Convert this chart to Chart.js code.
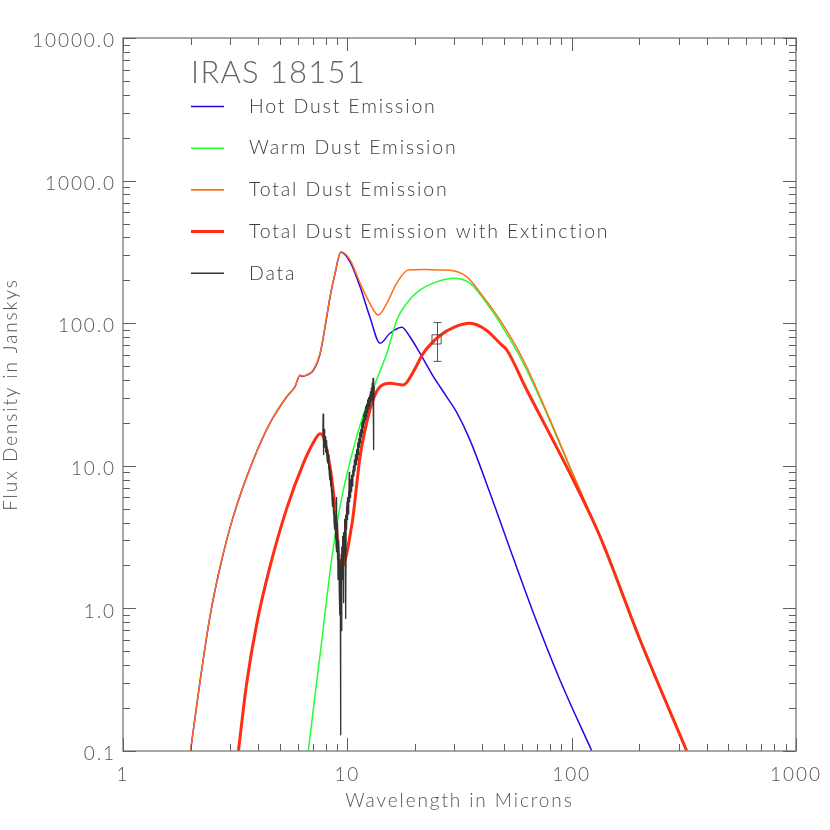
<!DOCTYPE html>
<html>
<head>
<meta charset="utf-8">
<script src="https://cdn.jsdelivr.net/npm/chart.js@4/dist/chart.umd.min.js"></script>
<style>
  html, body { margin: 0; padding: 0; background: #ffffff; }
  #c { display: block; }
</style>
</head>
<body>
<canvas id="c" width="830" height="830"></canvas>
<script>
// ---------------- DATA ----------------
const chartTitle = "IRAS 18151";
const seriesLabels = ["Hot Dust Emission", "Warm Dust Emission", "Total Dust Emission",
                      "Total Dust Emission with Extinction", "Data"];

const xTickValues = [1, 10, 100, 1000];
const xTickLabels = ["1", "10", "100", "1000"];
const yTickValues = [0.1, 1, 10, 100, 1000, 10000];
const yTickLabels = ["0.1", "1.0", "10.0", "100.0", "1000.0", "10000.0"];

// Hot dust emission (blue)
const hotLambda = [2.00, 2.20, 2.44, 2.71, 3.10, 3.81, 4.52, 5.37, 5.84, 6.15, 6.30, 6.59, 7.05, 7.56, 8.09, 8.37, 8.81, 9.35,
                   10.3, 11.4, 12.6, 14.0, 15.5, 17.5, 19.0, 21.1, 24.2, 27.7, 30.7, 35.2, 43.3, 51.4, 67.6, 88.7, 123];
const hotFlux   = [0.1, 0.30, 0.87, 1.95, 4.4, 11.0, 19.9, 30.5, 35.8, 43.0, 42.3, 43.2, 46.5, 61, 110, 152, 222, 314,
                   268, 180, 111, 72.3, 85, 93.5, 80.4, 61.5, 42.2, 30.6, 23.8, 15.2, 6.41, 3.02, 0.925, 0.315, 0.1];

// Warm dust emission (green)
const warmLambda = [6.70, 7.20, 7.65, 8.37, 8.81, 9.27, 9.90, 11.8, 13.5, 15.0, 16.6, 18.4, 21.1, 25.0, 29.7, 35.2,
                    41.8, 48.0, 60.9, 80.2, 101.9, 134, 202, 326];
const warmFlux   = [0.1, 0.255, 0.55, 1.8, 3.2, 5.16, 8.4, 23, 40, 61.5, 105, 138, 171, 195, 207, 191,
                    138, 100, 52.4, 20.5, 8.4, 3.12, 0.59, 0.1];

// Total dust emission (orange)
const totalLambda = [2.00, 2.20, 2.44, 2.71, 3.10, 3.81, 4.52, 5.37, 5.84, 6.15, 6.30, 6.59, 7.05, 7.56, 8.09, 8.37, 8.81, 9.35,
                     10.3, 11.4, 12.6, 13.75, 15.0, 16.6, 18.7, 22.0, 25.9, 28.7, 34.0, 40.4, 48.0, 60.9, 80.2, 101.9, 134, 202, 326];
const totalFlux   = [0.1, 0.30, 0.875, 1.96, 4.4, 11.0, 19.9, 30.6, 35.9, 43.4, 42.6, 43.4, 47, 61.5, 111, 153, 224, 317,
                     277, 191, 138, 114, 138, 191, 236, 238, 236, 235, 212, 153, 105, 55.2, 20.9, 8.6, 3.18, 0.60, 0.1];

// Total dust emission with extinction (red)
const extLambda = [3.27, 3.56, 3.95, 4.52, 5.37, 6.37, 7.00, 7.56, 7.82, 8.37, 8.75, 9.37, 10.5, 11.4, 12.6, 13.3, 14.0,
                   15.5, 17.8, 19.7, 21.8, 25.9, 30.0, 35.2, 41.8, 48.0, 51.4, 63.1, 80.2, 101.9, 134, 202, 326];
const extFlux   = [0.1, 0.30, 0.785, 1.96, 5.03, 10.4, 14.2, 16.8, 16.0, 9.87, 5.75, 1.91, 3.95, 11.6, 24.6, 31.5, 35.9,
                   37.9, 36.9, 45.7, 61.5, 82, 94, 99.8, 89, 72, 64.9, 34.0, 16.5, 7.9, 3.18, 0.60, 0.1];

// Observed spectrum (black)
const dataLambda = [7.78, 7.80, 7.82, 7.84, 7.86, 7.88, 7.90, 7.92, 7.95, 7.98, 8.01, 8.04, 8.07, 8.10, 8.13, 8.16,
                    8.19, 8.22, 8.25, 8.28, 8.31, 8.34, 8.37, 8.40, 8.43, 8.46, 8.49, 8.52, 8.55, 8.58, 8.61, 8.64,
                    8.67, 8.70, 8.73, 8.76, 8.79, 8.82, 8.85, 8.88, 8.91, 8.94, 8.97, 9.00, 9.03, 9.06, 9.09, 9.12,
                    9.15, 9.18, 9.21, 9.24, 9.27, 9.30, 9.32, 9.34, 9.37, 9.40, 9.43, 9.46, 9.49, 9.52, 9.55, 9.58,
                    9.61, 9.64, 9.67, 9.70, 9.73, 9.76, 9.79, 9.82, 9.85, 9.88, 9.91, 9.94, 9.97, 10.00, 10.04, 10.08,
                    10.12, 10.16, 10.20, 10.24, 10.28, 10.32, 10.36, 10.40, 10.45, 10.50, 10.55, 10.60, 10.65, 10.70,
                    10.76, 10.82, 10.88, 10.94, 11.00, 11.06, 11.12, 11.18, 11.24, 11.30, 11.36, 11.42, 11.48, 11.54,
                    11.60, 11.66, 11.72, 11.78, 11.84, 11.90, 11.96, 12.02, 12.08, 12.14, 12.20, 12.26, 12.32, 12.38,
                    12.44, 12.50, 12.56, 12.62, 12.68, 12.74, 12.80, 12.86, 12.92, 12.97, 13.02, 13.06, 13.10, 13.15, 13.20];
const dataFlux   = [17, 23, 12, 20, 15, 18, 14, 17, 13.5, 16, 12.5, 15, 12, 14, 11, 13,
                    10.5, 12, 9.5, 11, 8.8, 10, 8.0, 9.2, 7.2, 8.2, 6.5, 7.5, 5.8, 6.8, 5.2, 6.0,
                    4.6, 5.4, 4.0, 4.8, 3.6, 4.3, 3.1, 4.5, 2.8, 6.0, 2.5, 4.0, 2.2, 3.5, 1.6, 3.0,
                    1.9, 2.6, 1.3, 2.2, 0.9, 1.8, 0.13, 2.0, 1.2, 2.4, 0.7, 2.7, 1.6, 3.2, 1.9, 3.0,
                    1.1, 3.4, 2.3, 3.8, 2.6, 4.2, 3.0, 4.5, 0.85, 4.0, 5.2, 3.6, 5.6, 4.2, 6.0, 4.6,
                    6.6, 5.0, 9.0, 5.6, 7.4, 6.0, 8.0, 6.6, 8.6, 7.2, 9.3, 7.8, 10.0, 8.5,
                    11.0, 9.2, 12.0, 10.2, 13.0, 11.0, 14.5, 12.0, 15.5, 13.5, 17, 14.5, 18, 16,
                    20, 17, 21, 18.5, 23, 20, 24, 21, 26, 22, 27, 23.5, 29, 25,
                    30, 26, 31, 27, 33, 28, 35, 29, 38, 30, 41, 13, 33, 28, 36];

// Photometric point with error bar (IRAS 25 micron)
const photLambda = [25];
const photFlux   = [77];
const photLow    = [54];
const photHigh   = [101];

// ---------------- CHART ----------------
const colors = {
  hot: "#3000e8",
  warm: "#22ff33",
  total: "#ff6e1a",
  ext: "#ff2e12",
  data: "#333333",
  axis: "#8a8a8a",
  text: "#555555"
};
const FONT = "Lato, 'DejaVu Sans', sans-serif";

function pts(xs, ys) { return xs.map((x, i) => ({ x: x, y: ys[i] })); }

const seriesColors = [colors.hot, colors.warm, colors.total, colors.ext, colors.data];

const datasets = [
  { label: seriesLabels[0], data: pts(hotLambda, hotFlux), borderColor: colors.hot, borderWidth: 1.5, order: 5 },
  { label: seriesLabels[1], data: pts(warmLambda, warmFlux), borderColor: colors.warm, borderWidth: 1.5, order: 4 },
  { label: seriesLabels[2], data: pts(totalLambda, totalFlux), borderColor: colors.total, borderWidth: 1.5, order: 3 },
  { label: seriesLabels[3], data: pts(extLambda, extFlux), borderColor: colors.ext, borderWidth: 3, order: 2 },
  { label: seriesLabels[4], data: pts(dataLambda, dataFlux), borderColor: colors.data, borderWidth: 1.3, order: 1,
    tension: 0 },
  { label: "IRAS photometry", data: pts(photLambda, photFlux), type: 'scatter', showLine: false,
    pointStyle: 'rect', pointRadius: 6.5, borderColor: "#555555", borderWidth: 1,
    backgroundColor: "rgba(0,0,0,0)", order: 0 }
];
datasets.forEach((d, i) => {
  if (i < 4) { d.cubicInterpolationMode = 'monotone'; }
  if (i < 5) { d.pointRadius = 0; d.fill = false; d.borderJoinStyle = 'round'; }
});

// Frame, minor/major tick marks, error bar and legend
const decor = {
  id: 'decor',
  afterDraw(chart) {
    const ctx = chart.ctx;
    const a = chart.chartArea;
    const xs = chart.scales.x, ys = chart.scales.y;
    ctx.save();
    try { ctx.letterSpacing = "0px"; } catch (e) {}

    // error bar
    ctx.strokeStyle = "#555555";
    ctx.lineWidth = 1;
    for (let i = 0; i < photLambda.length; i++) {
      const px = Math.round(xs.getPixelForValue(photLambda[i])) + 0.5;
      const pLo = ys.getPixelForValue(photLow[i]);
      const pHi = ys.getPixelForValue(photHigh[i]);
      ctx.beginPath();
      ctx.moveTo(px, pLo); ctx.lineTo(px, pHi);
      ctx.moveTo(px - 4, pLo); ctx.lineTo(px + 4, pLo);
      ctx.moveTo(px - 4, pHi); ctx.lineTo(px + 4, pHi);
      ctx.stroke();
    }

    // frame
    ctx.strokeStyle = colors.axis;
    ctx.lineWidth = 1.5;
    ctx.strokeRect(a.left, a.top, a.right - a.left, a.bottom - a.top);

    // tick marks (inward, all four sides)
    ctx.strokeStyle = "#606060";
    ctx.lineWidth = 1;
    const major = 13, minor = 7;
    for (let e = 0; e <= 3; e++) {
      for (let m = 1; m <= 9; m++) {
        const v = m * Math.pow(10, e);
        if (v > 1000) break;
        const px = Math.round(xs.getPixelForValue(v)) + 0.5;
        const len = (m === 1) ? major : minor;
        ctx.beginPath();
        ctx.moveTo(px, a.bottom); ctx.lineTo(px, a.bottom - len);
        ctx.moveTo(px, a.top); ctx.lineTo(px, a.top + len);
        ctx.stroke();
      }
    }
    for (let e = -1; e <= 4; e++) {
      for (let m = 1; m <= 9; m++) {
        const v = m * Math.pow(10, e);
        if (v > 10000) break;
        const py = Math.round(ys.getPixelForValue(v)) + 0.5;
        const len = (m === 1) ? major : minor;
        ctx.beginPath();
        ctx.moveTo(a.left, py); ctx.lineTo(a.left + len, py);
        ctx.moveTo(a.right, py); ctx.lineTo(a.right - len, py);
        ctx.stroke();
      }
    }

    // title inside plot
    ctx.textBaseline = 'middle';
    ctx.textAlign = 'left';
    ctx.fillStyle = "#666666";
    ctx.font = "300 31px " + FONT;
    try { ctx.letterSpacing = "1.3px"; } catch (e) {}
    ctx.fillText(chartTitle, 191, 73);

    // legend
    ctx.font = "300 19.5px " + FONT;
    try { ctx.letterSpacing = "1.85px"; } catch (e) {}
    const rowY0 = 106.5, rowStep = 41.7;
    for (let i = 0; i < seriesLabels.length; i++) {
      const y = rowY0 + i * rowStep;
      ctx.strokeStyle = seriesColors[i];
      ctx.lineWidth = (i === 3) ? 3 : 1.6;
      ctx.beginPath();
      ctx.moveTo(191, y); ctx.lineTo(224, y);
      ctx.stroke();
      ctx.fillStyle = "#3c3c3c";
      ctx.fillText(seriesLabels[i], 249, y);
    }
    try { ctx.letterSpacing = "0px"; } catch (e) {}
    ctx.restore();
  }
};

const spacing = {
  id: 'spacing',
  beforeDraw(chart) { try { chart.ctx.letterSpacing = "1.9px"; } catch (e) {} },
  beforeDatasetsDraw(chart) { try { chart.ctx.letterSpacing = "0px"; } catch (e) {} }
};

new Chart(document.getElementById('c'), {
  type: 'line',
  data: { datasets: datasets },
  plugins: [spacing, decor],
  options: {
    responsive: false,
    devicePixelRatio: 1,
    animation: false,
    layout: { padding: { top: 38, right: 34, bottom: 0, left: 0 } },
    plugins: { legend: { display: false }, tooltip: { enabled: false } },
    scales: {
      x: {
        type: 'logarithmic',
        min: 1, max: 1000,
        afterFit(scale) { scale.height = 79; },
        afterBuildTicks(scale) { scale.ticks = xTickValues.map(v => ({ value: v })); },
        grid: { display: false, drawTicks: false },
        border: { display: false },
        ticks: {
          autoSkip: false, maxRotation: 0, padding: 12, color: colors.text,
          font: { family: FONT, size: 19, weight: '300' },
          callback: (v) => { const i = xTickValues.indexOf(v); return i >= 0 ? xTickLabels[i] : ''; }
        },
        title: {
          display: true, text: "Wavelength in Microns", color: colors.text,
          font: { family: FONT, size: 19, weight: '300' },
          padding: { top: 0, bottom: 18 }
        }
      },
      y: {
        type: 'logarithmic',
        min: 0.1, max: 10000,
        afterFit(scale) { scale.width = 123; },
        afterBuildTicks(scale) { scale.ticks = yTickValues.map(v => ({ value: v })); },
        grid: { display: false, drawTicks: false },
        border: { display: false },
        ticks: {
          autoSkip: false, padding: 7, color: colors.text, labelOffset: 3,
          font: { family: FONT, size: 19, weight: '300' },
          callback: (v) => { const i = yTickValues.indexOf(v); return i >= 0 ? yTickLabels[i] : ''; }
        },
        title: {
          display: true, text: "Flux Density in Janskys", color: colors.text,
          font: { family: FONT, size: 19, weight: '300' },
          padding: { top: -1, bottom: 0 }
        }
      }
    }
  }
});
</script>
</body>
</html>
